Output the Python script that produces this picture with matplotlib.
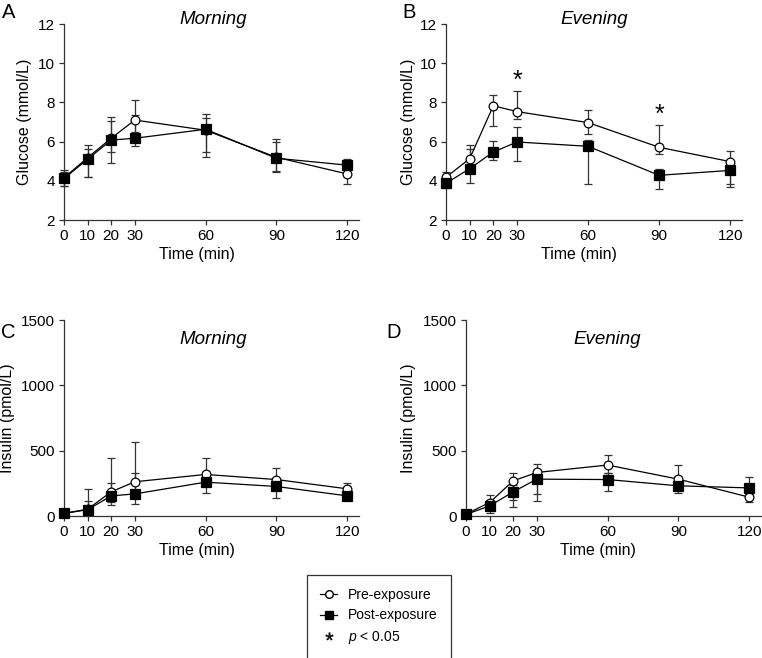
import matplotlib
matplotlib.use("Agg")
import matplotlib.pyplot as plt
from matplotlib.lines import Line2D
import numpy as np

plt.rcParams['font.family'] = ['Liberation Sans', 'DejaVu Sans']
plt.rcParams['mathtext.fontset'] = 'custom'
plt.rcParams['mathtext.it'] = 'Liberation Sans:italic'
plt.rcParams['mathtext.rm'] = 'Liberation Sans'

W, H = 762, 658

times = [0, 10, 20, 30, 60, 90, 120]

# A: glucose, morning
glu_am_pre = [4.15, 5.18, 6.17, 7.10, 6.58, 5.20, 4.35]
glu_am_pre_hi = [4.55, 5.83, 7.27, 8.12, 7.22, 6.15, 5.00]
glu_am_pre_lo = [3.75, 4.21, 4.93, 6.50, 5.20, 4.50, 3.85]
glu_am_post = [4.12, 5.10, 6.08, 6.17, 6.63, 5.15, 4.80]
glu_am_post_hi = [4.45, 5.62, 7.07, 7.36, 7.39, 6.00, 5.10]
glu_am_post_lo = [3.73, 4.21, 5.49, 5.78, 5.47, 4.45, 4.55]

# B: glucose, evening
glu_pm_pre = [4.18, 5.13, 7.83, 7.53, 6.97, 5.71, 4.98]
glu_pm_pre_hi = [4.43, 5.83, 8.38, 8.58, 7.61, 6.83, 5.52]
glu_pm_pre_lo = [3.95, 4.60, 6.78, 7.14, 6.40, 5.35, 3.84]
glu_pm_post = [3.87, 4.62, 5.47, 5.98, 5.76, 4.28, 4.53]
glu_pm_post_hi = [4.10, 5.60, 6.01, 6.76, 6.10, 4.60, 4.80]
glu_pm_post_lo = [3.65, 3.87, 5.06, 5.03, 3.82, 3.56, 3.67]
sig_times = [30, 90]
sig_y = [9.1, 7.36]

# C: insulin, morning
ins_am_pre = [20, 52, 185, 262, 318, 279, 208]
ins_am_pre_hi = [35, 205, 446, 569, 444, 367, 249]
ins_am_pre_lo = [10, 35, 108, 200, 230, 220, 170]
ins_am_post = [20, 48, 154, 169, 259, 226, 154]
ins_am_post_hi = [32, 115, 256, 331, 300, 270, 190]
ins_am_post_lo = [10, 30, 85, 90, 179, 138, 135]

# D: insulin, evening
ins_pm_pre = [15, 103, 269, 333, 390, 282, 144]
ins_pm_pre_hi = [25, 159, 331, 400, 467, 387, 170]
ins_pm_pre_lo = [8, 60, 120, 172, 330, 220, 105]
ins_pm_post = [12, 77, 185, 282, 279, 231, 215]
ins_pm_post_hi = [22, 120, 240, 330, 330, 260, 300]
ins_pm_post_lo = [5, 26, 67, 115, 192, 174, 160]


def fx(x):
    return x / W


def fy(y):
    return 1 - y / H


fig = plt.figure(figsize=(W / 100, H / 100), dpi=100)


def make_ax(l, r, t, b):
    return fig.add_axes([fx(l), fy(b), fx(r) - fx(l), fy(t) - fy(b)])


def draw(ax, pre, pre_lo, pre_hi, post, post_lo, post_hi):
    for y, lo, hi, mk, fc, ms in [(pre, pre_lo, pre_hi, 'o', 'white', 6.3),
                                  (post, post_lo, post_hi, 's', 'black', 6.7)]:
        y = np.array(y, float)
        yerr = [y - np.array(lo), np.array(hi) - y]
        ax.errorbar(times, y, yerr=yerr, fmt='none', ecolor='#333333',
                    elinewidth=0.9, capsize=3, capthick=0.9, clip_on=False, zorder=2)
        ax.plot(times, y, color='black', lw=0.9, marker=mk, ms=ms,
                mfc=fc, mec='black', mew=0.9, clip_on=False, zorder=3)


def style(ax, ylim, yticks):
    ax.set_xlim(0, 125)
    ax.set_ylim(*ylim)
    ax.set_xticks(times)
    ax.set_yticks(yticks)
    for s in ['top', 'right']:
        ax.spines[s].set_visible(False)
    for s in ['left', 'bottom']:
        ax.spines[s].set_color('#333333')
        ax.spines[s].set_linewidth(0.9)
    ax.tick_params(length=3.6, width=0.9, color='#333333', labelsize=11, pad=3)
    ax.patch.set_alpha(0)


axA = make_ax(64, 359, 24, 220)
draw(axA, glu_am_pre, glu_am_pre_lo, glu_am_pre_hi, glu_am_post, glu_am_post_lo, glu_am_post_hi)
style(axA, (2, 12), [2, 4, 6, 8, 10, 12])

axB = make_ax(446, 742, 24, 220)
draw(axB, glu_pm_pre, glu_pm_pre_lo, glu_pm_pre_hi, glu_pm_post, glu_pm_post_lo, glu_pm_post_hi)
style(axB, (2, 12), [2, 4, 6, 8, 10, 12])
for t, yv in zip(sig_times, sig_y):
    axB.text(t, yv, '*', ha='center', va='center', fontsize=18)

axC = make_ax(64, 359, 320, 516)
draw(axC, ins_am_pre, ins_am_pre_lo, ins_am_pre_hi, ins_am_post, ins_am_post_lo, ins_am_post_hi)
style(axC, (0, 1500), [0, 500, 1000, 1500])

axD = make_ax(466, 761, 320, 516)
draw(axD, ins_pm_pre, ins_pm_pre_lo, ins_pm_pre_hi, ins_pm_post, ins_pm_post_lo, ins_pm_post_hi)
style(axD, (0, 1500), [0, 500, 1000, 1500])

# labels placed in figure pixels
for lbl, x, y in [('A', 8.5, 12), ('B', 409.5, 12), ('C', 8.5, 333), ('D', 394, 333)]:
    fig.text(fx(x), fy(y), lbl, fontsize=14.5, ha='center', va='center')

for ttl, x, y in [('Morning', 213, 20), ('Evening', 594, 20), ('Morning', 213, 339), ('Evening', 607, 339)]:
    fig.text(fx(x), fy(y), ttl, fontsize=13.5, style='italic', ha='center', va='center')

for lbl, x, y in [('Glucose (mmol/L)', 25, 122), ('Glucose (mmol/L)', 408, 122),
                  ('Insulin (pmol/L)', 8, 418), ('Insulin (pmol/L)', 409, 418)]:
    fig.text(fx(x), fy(y), lbl, fontsize=11.5, rotation=90, ha='center', va='center')

for x, y in [(197, 255), (579, 255), (197, 550), (598, 550)]:
    fig.text(fx(x), fy(y), 'Time (min)', fontsize=11.5, ha='center', va='center')

handles = [
    Line2D([], [], color='black', lw=0.9, marker='o', ms=5.5, mfc='white', mec='black'),
    Line2D([], [], color='black', lw=0.9, marker='s', ms=5.5, mfc='black', mec='black'),
    Line2D([], [], lw=0, marker='$*$', ms=5.5, color='black', mew=0.3),
]
leg = fig.legend(handles, ['Pre-exposure', 'Post-exposure', r'$\it{p}$ < 0.05'],
                 loc='upper left', bbox_to_anchor=(fx(307), fy(575)),
                 borderaxespad=0, fontsize=10, frameon=True, fancybox=False,
                 edgecolor='black', handlelength=1.2, handletextpad=0.8,
                 labelspacing=0.45, borderpad=0.95)
leg.get_frame().set_linewidth(0.9)

fig.savefig('out.png', dpi=100)
